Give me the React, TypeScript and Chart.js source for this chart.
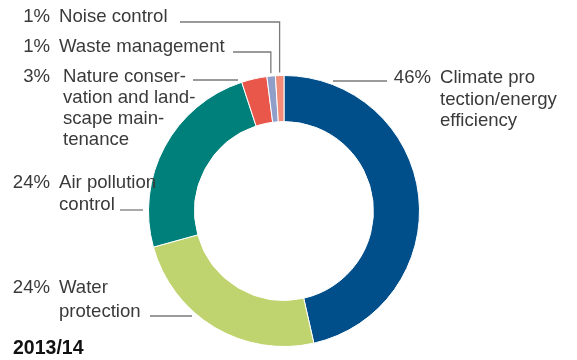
import React, { useEffect, useRef } from "react";
import { Chart, registerables } from "chart.js";

Chart.register(...registerables);

const categories = [
  "Climate protection/energy efficiency",
  "Water protection",
  "Air pollution control",
  "Nature conservation and landscape maintenance",
  "Waste management",
  "Noise control",
];
const shares = [46, 24, 24, 3, 1, 1];
const sliceColors = ["#004f8a", "#bfd46e", "#00807a", "#e8574a", "#8f9fc9", "#f28c78"];
const labelLines = [
  ["Climate pro", "tection/energy", "efficiency"],
  ["Water", "protection"],
  ["Air pollution", "control"],
  ["Nature conser-", "vation and land-", "scape main-", "tenance"],
  ["Waste management"],
  ["Noise control"],
];
const yearLabel = "2013/14";

// annotation layout (positions only)
const layout = [
  { pctRight: 431, textX: 440, y: 83, lh: 21.5, line: [[333, 81], [387, 81]], toArc: false },
  { pctRight: 50, textX: 59, y: 293, lh: 24, line: [[150, 316], [192, 316]], toArc: false },
  { pctRight: 50, textX: 59, y: 188, lh: 22, line: [[120, 210], [143, 210]], toArc: false },
  { pctRight: 50, textX: 63, y: 82, lh: 21, line: [[193, 80], [238, 80]], toArc: false },
  { pctRight: 50, textX: 59, y: 52, lh: 21, line: [[233, 52]], toArc: true },
  { pctRight: 50, textX: 59, y: 22, lh: 21, line: [[180, 22]], toArc: true },
];

const FONT = '18.6px "Liberation Sans", Arial, sans-serif';

const labelPlugin = {
  id: "donutLabels",
  afterDraw(chart: any) {
    const ctx = chart.ctx;
    const meta = chart.getDatasetMeta(0);
    ctx.save();
    ctx.font = FONT;
    ctx.fillStyle = "#3a3a3a";
    ctx.textBaseline = "alphabetic";
    categories.forEach((_, i) => {
      const L = layout[i];
      ctx.textAlign = "right";
      ctx.fillText(shares[i] + "%", L.pctRight, L.y);
      ctx.textAlign = "left";
      labelLines[i].forEach((t, k) => ctx.fillText(t, L.textX, L.y + k * L.lh));
      // leader line
      ctx.strokeStyle = "#7a7a7a";
      ctx.lineWidth = 1.3;
      ctx.beginPath();
      const pts = L.line.map((p) => [p[0], p[1]]);
      if (L.toArc) {
        const arc = meta.data[i];
        const mid = (arc.startAngle + arc.endAngle) / 2;
        const r = arc.outerRadius + 3;
        const x = arc.x + Math.cos(mid) * r;
        const y = arc.y + Math.sin(mid) * r;
        pts.push([x, pts[0][1]]);
        pts.push([x, y]);
      }
      ctx.moveTo(pts[0][0], pts[0][1]);
      for (let k = 1; k < pts.length; k++) ctx.lineTo(pts[k][0], pts[k][1]);
      ctx.stroke();
    });
    ctx.font = 'bold 19.5px "Liberation Sans", Arial, sans-serif';
    ctx.fillStyle = "#111111";
    ctx.textAlign = "left";
    ctx.fillText(yearLabel, 13, 354);
    ctx.restore();
  },
};

export default function App() {
  const ref = useRef<HTMLCanvasElement>(null);
  useEffect(() => {
    if (!ref.current) return;
    const chart = new Chart(ref.current, {
      type: "doughnut",
      data: {
        labels: categories,
        datasets: [
          {
            data: shares,
            backgroundColor: sliceColors,
            borderColor: "#ffffff",
            borderWidth: 1,
          },
        ],
      },
      options: {
        responsive: true,
        maintainAspectRatio: false,
        animation: false,
        cutout: "66%",
        layout: { padding: { left: 148, right: 157, top: 75, bottom: 13 } },
        plugins: { legend: { display: false }, tooltip: { enabled: false } },
      },
      plugins: [labelPlugin],
    });
    return () => chart.destroy();
  }, []);
  return (
    <div style={{ position: "fixed", left: 0, top: 0, width: 577, height: 360, background: "#fff" }}>
      <canvas ref={ref} />
    </div>
  );
}
